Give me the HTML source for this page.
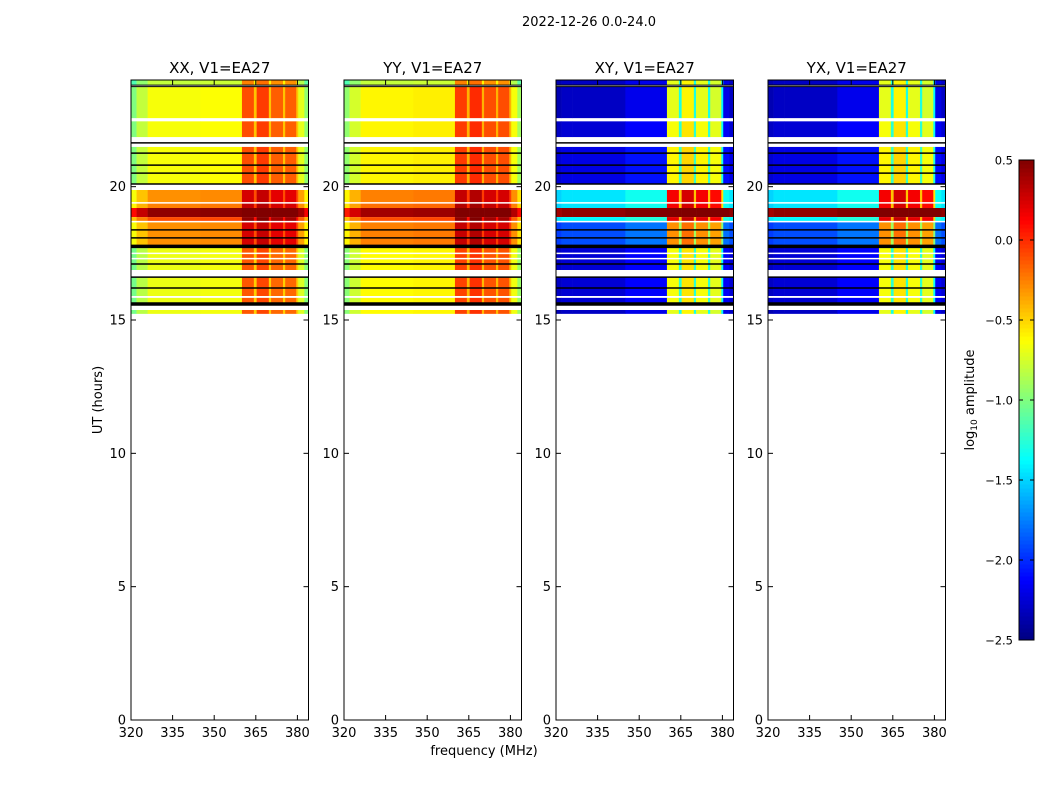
<!DOCTYPE html>
<html><head><meta charset="utf-8">
<style>
html,body{margin:0;padding:0;background:#fff;}
svg{display:block;font-family:"DejaVu Sans","Liberation Sans",sans-serif;}
</style></head>
<body>
<svg id="fig" width="1050" height="800" viewBox="0 0 1050 800">
<text x="589" y="26" font-size="13" text-anchor="middle">2022-12-26 0.0-24.0</text>
<text transform="translate(102,400) rotate(-90)" font-size="13" text-anchor="middle">UT (hours)</text>
<text x="484" y="755" font-size="13" text-anchor="middle">frequency (MHz)</text>
<g id="panels"></g>
<g id="cbar"></g>
</svg>
<script>
// ---- data ----
const panelTitles = ["XX, V1=EA27","YY, V1=EA27","XY, V1=EA27","YX, V1=EA27"];
const panelType = ["par","par","cross","cross"];
// time bands: start hour, end hour
const bandStart = [23.81,22.57,21.86,20.10,19.39,19.20,18.86,18.71,17.81,16.875,15.90,15.56,15.23];
const bandEnd   = [24.00,23.75,22.45,21.49,19.875,19.39,19.20,18.86,18.67,17.70,16.61,15.83,15.375];
// base log10 amplitude per band for each panel
const baseXX = [-0.80,-0.65,-0.65,-0.65,-0.30,-0.25,0.45,-0.10,-0.30,-0.68,-0.68,-0.68,-0.68];
const baseYY = [-0.80,-0.60,-0.60,-0.60,-0.25,-0.20,0.40,-0.10,-0.25,-0.62,-0.62,-0.62,-0.62];
const baseXY = [-2.30,-2.30,-2.25,-2.20,-1.45,-1.45,0.45,-1.40,-1.90,-2.25,-2.25,-2.25,-2.30];
const baseYX = [-2.30,-2.30,-2.25,-2.20,-1.45,-1.45,0.45,-1.40,-1.90,-2.25,-2.25,-2.25,-2.30];
// frequency segments (MHz) with offsets for parallel and cross hands
const segStart = [320,322,326,345,360,364.3,365.3,369.7,370.5,374.8,375.6,379.6,380.3,382.5];
const segEnd   = [322,326,345,360,364.3,365.3,369.7,370.5,374.8,375.6,379.6,380.3,382.5,384];
const parOff   = [-0.35,-0.15,0,0.02,0.55,0.2,0.6,0.2,0.5,0.2,0.5,0.2,-0.05,-0.3];
const crossOff = [-0.05,0,0,0.12,1.6,1.0,1.7,1.0,1.6,1.0,1.55,0.9,0.1,0];
// flagged lines (black) and blank lines (white), in hours
const blackLines = [23.81,23.75,21.64,21.26,20.81,20.51,20.10,18.38,18.08,17.76,17.10,16.61,16.20,15.60];
const blackWidth = [1,1,1.5,1.5,1.5,1.5,1.5,1.5,1.5,3.5,1.5,1.5,1.5,3.5];
const whiteLines = [22.52,21.80,19.39,18.69,17.50,17.30,15.87];
const yTicks = [0,5,10,15,20];
const xTicks = [320,335,350,365,380];
const cbTicks = [-2.5,-2.0,-1.5,-1.0,-0.5,0.0,0.5];
const cbLabels = ["\u22122.5","\u22122.0","\u22121.5","\u22121.0","\u22120.5","0.0","0.5"];

// ---- helpers ----
const NS="http://www.w3.org/2000/svg";
function mk(tag,attrs,parent){const e=document.createElementNS(NS,tag);for(const k in attrs)e.setAttribute(k,attrs[k]);parent.appendChild(e);return e;}
function jet(t){t=Math.max(0,Math.min(1,t));
  const r=Math.max(0,Math.min(1,Math.min(4*t-1.5,-4*t+4.5)));
  const g=Math.max(0,Math.min(1,Math.min(4*t-0.5,-4*t+3.5)));
  const b=Math.max(0,Math.min(1,Math.min(4*t+0.5,-4*t+2.5)));
  return `rgb(${Math.round(r*255)},${Math.round(g*255)},${Math.round(b*255)})`;}
const vmin=-2.5,vmax=0.5;
const panelX=[131,344,556,768], PW=177.5, PY0=80, PY1=720;
const fMin=320,fMax=384,hMin=0,hMax=24;
const bases=[baseXX,baseYY,baseXY,baseYX];

const root=document.getElementById('panels');
panelTitles.forEach((title,p)=>{
  const x0=panelX[p];
  const xs=f=>x0+(f-fMin)/(fMax-fMin)*PW;
  const ys=h=>PY1-(h-hMin)/(hMax-hMin)*(PY1-PY0);
  const g=mk('g',{},root);
  
  
  const off = panelType[p]==="par"?parOff:crossOff;
  bandStart.forEach((bs,i)=>{
    segStart.forEach((fs,j)=>{
      const v=bases[p][i]+off[j];
      const c=mk('rect',{x:xs(fs),y:ys(bandEnd[i]),width:xs(segEnd[j])-xs(fs)+0.3,height:ys(bs)-ys(bandEnd[i]),fill:jet((v-vmin)/(vmax-vmin))},g);
      
      
    });
  });
  whiteLines.forEach(h=>{const l=mk('line',{x1:x0,x2:x0+PW,y1:ys(h),y2:ys(h),stroke:'#fff','stroke-width':1.5},g);
    
    });
  blackLines.forEach((h,k)=>{const l=mk('line',{x1:x0,x2:x0+PW,y1:ys(h),y2:ys(h),stroke:'#000','stroke-width':blackWidth[k]},g);
    
    });
  const fr=mk('rect',{x:x0,y:PY0,width:PW,height:PY1-PY0,fill:'none',stroke:'#000','stroke-width':1},g);
  
  
  const t=mk('text',{x:x0+PW/2,y:73,'font-size':15,'text-anchor':'middle'},g);t.textContent=title;
  
  
  yTicks.forEach(h=>{const y=ys(h);
    mk('line',{x1:x0,x2:x0+5,y1:y,y2:y,stroke:'#000'},g);
    mk('line',{x1:x0+PW-5,x2:x0+PW,y1:y,y2:y,stroke:'#000'},g);
    const tl=mk('text',{x:x0-5,y:y+4.5,'font-size':13,'text-anchor':'end'},g);tl.textContent=h;
    
    });
  xTicks.forEach(f=>{const x=xs(f);
    mk('line',{x1:x,x2:x,y1:PY1,y2:PY1-5,stroke:'#000'},g);
    mk('line',{x1:x,x2:x,y1:PY0,y2:PY0+5,stroke:'#000'},g);
    const tl=mk('text',{x:x,y:737,'font-size':13,'text-anchor':'middle'},g);tl.textContent=f;
    
    });
});

// colorbar
const cb=document.getElementById('cbar');
const CX=1019,CW=15,CY0=160,CY1=640;
const cys=v=>CY1-(v-vmin)/(vmax-vmin)*(CY1-CY0);
for(let i=0;i<120;i++){const v0=vmin+i*(vmax-vmin)/120, v1=v0+(vmax-vmin)/120;
  mk('rect',{x:CX,y:cys(v1),width:CW,height:cys(v0)-cys(v1)+0.5,fill:jet(((v0+v1)/2-vmin)/(vmax-vmin))},cb);}
mk('rect',{x:CX,y:CY0,width:CW,height:CY1-CY0,fill:'none',stroke:'#000'},cb);
cbTicks.forEach((v,i)=>{const y=cys(v);
  mk('line',{x1:CX,x2:CX+4,y1:y,y2:y,stroke:'#000'},cb);
  mk('line',{x1:CX+CW-4,x2:CX+CW,y1:y,y2:y,stroke:'#000'},cb);
  const tl=mk('text',{x:1013,y:y+4.5,'font-size':11.5,'text-anchor':'end'},cb);tl.textContent=cbLabels[i];
  
  });
const cl=mk('text',{transform:'translate(974,400) rotate(-90)','font-size':13,'text-anchor':'middle'},cb);
cl.innerHTML='log<tspan font-size="9" dy="3">10</tspan><tspan dy="-3"> amplitude</tspan>';


</script>
</body></html>
